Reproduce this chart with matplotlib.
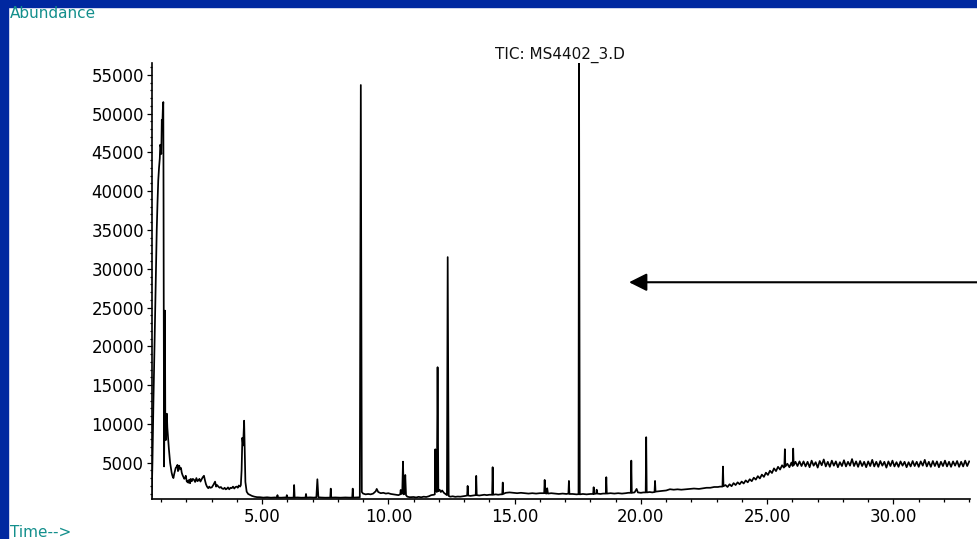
import numpy as np
import matplotlib
matplotlib.use("Agg")
import matplotlib.pyplot as plt
from matplotlib.patches import Rectangle
from matplotlib.ticker import MultipleLocator, FormatStrFormatter

# retention time (min) / abundance
# solvent front and early bleed
front_rt = [0.63, 0.66, 0.70, 0.74, 0.78, 0.83, 0.86, 0.89, 0.92, 0.95, 0.97, 0.99,
            1.01, 1.03, 1.05, 1.07, 1.09, 1.10, 1.12, 1.14, 1.155, 1.17, 1.19, 1.21,
            1.23, 1.25, 1.28, 1.31, 1.34, 1.36, 1.39, 1.42, 1.45, 1.49, 1.52, 1.55,
            1.58, 1.62, 1.65, 1.67, 1.69, 1.72, 1.75, 1.79, 1.82, 1.85, 1.88, 1.92,
            1.95, 1.98, 2.02, 2.05, 2.08, 2.12, 2.15, 2.18, 2.22, 2.26, 2.31, 2.35,
            2.40, 2.44, 2.48, 2.52, 2.56, 2.61, 2.65, 2.70, 2.74, 2.78, 2.82, 2.87,
            2.91, 2.95, 3.01, 3.07, 3.10, 3.14, 3.18, 3.22, 3.27, 3.32, 3.37, 3.42,
            3.47, 3.52, 3.56, 3.60, 3.65, 3.70, 3.75, 3.80, 3.85, 3.90, 3.95, 4.00,
            4.04, 4.08, 4.13, 4.16, 4.19, 4.22, 4.25, 4.29, 4.31, 4.34, 4.39, 4.45,
            4.52, 4.60, 4.70, 4.80]
front_ab = [600, 5000, 13000, 20000, 27000, 35000, 38500, 41400, 43000, 44200, 46000, 45700,
            44800, 49200, 48300, 50500, 51500, 38000, 4500, 12000, 24600, 9000, 7900, 10200,
            11300, 9500, 8100, 6800, 5600, 4960, 4300, 3700, 3300, 3000, 3500, 3900,
            4300, 4480, 4700, 3900, 4000, 4600, 4200, 4300, 3700, 3400, 3190, 2900,
            3000, 3300, 2540, 2650, 2400, 2800, 2330, 2900, 2600, 2900, 2760, 2500,
            3000, 2600, 2700, 2900, 2550, 2850, 3100, 3300, 2700, 2200, 1900, 1690,
            1900, 1750, 1800, 2110, 2300, 2540, 1900, 2100, 1900, 1750, 1850, 1650,
            1600, 1750, 1550, 1600, 1800, 1550, 1750, 1700, 1900, 1650, 1850, 1900,
            1750, 2050, 1900, 2100, 4000, 8200, 7200, 10400, 7000, 2500, 1250, 950,
            830, 700, 600, 540]

# main run, baseline and peaks
mid_rt = [4.92, 5.05, 5.20, 5.35, 5.50, 5.59, 5.61, 5.63, 5.75, 5.90, 5.96, 5.98, 6.00,
          6.12, 6.25, 6.27, 6.29, 6.40, 6.55, 6.72, 6.74, 6.76, 6.90, 7.05, 7.15, 7.19,
          7.23, 7.35, 7.50, 7.70, 7.72, 7.74, 7.90, 8.10, 8.30, 8.45, 8.57, 8.59, 8.61,
          8.75, 8.87, 8.91, 8.95, 9.00, 9.10, 9.20, 9.30, 9.40, 9.50, 9.54, 9.60, 9.70,
          9.80, 9.90, 10.00, 10.10, 10.20, 10.30, 10.40, 10.47, 10.49, 10.51, 10.55,
          10.58, 10.61, 10.64, 10.67, 10.70, 10.75, 10.85, 11.00, 11.10, 11.20, 11.30,
          11.40, 11.50, 11.60, 11.70, 11.80, 11.84, 11.86, 11.88, 11.92, 11.95, 11.98,
          12.03, 12.08, 12.13, 12.20, 12.28, 12.32, 12.35, 12.39, 12.45, 12.55, 12.65,
          12.75, 12.85, 12.95, 13.05, 13.12, 13.14, 13.16, 13.25, 13.35, 13.46, 13.48,
          13.50, 13.60, 13.70, 13.80, 13.90, 14.00, 14.11, 14.13, 14.15, 14.25, 14.35,
          14.45, 14.51, 14.53, 14.55, 14.65, 14.80, 14.95, 15.10, 15.25, 15.40, 15.55,
          15.70, 15.85, 16.00, 16.17, 16.19, 16.21, 16.26, 16.29, 16.32, 16.45, 16.60,
          16.75, 16.90, 17.05, 17.13, 17.15, 17.17, 17.30, 17.45, 17.53, 17.55, 17.58,
          17.70, 17.85, 18.00, 18.11, 18.13, 18.15, 18.23, 18.25, 18.27, 18.40, 18.50,
          18.61, 18.63, 18.65, 18.80, 18.95, 19.10, 19.25, 19.40, 19.50, 19.60, 19.62,
          19.64, 19.75, 19.83, 19.88, 20.00, 20.10, 20.19, 20.21, 20.23, 20.35, 20.45,
          20.54, 20.56, 20.58, 20.70, 20.85, 21.00, 21.15, 21.30, 21.45, 21.60, 21.80,
          21.95, 22.10, 22.30, 22.47, 22.60, 22.75, 22.90, 23.05, 23.13, 23.23, 23.25,
          23.27]
mid_ab = [530, 480, 520, 470, 500, 480, 800, 490, 470, 500, 480, 800, 490,
          470, 480, 2100, 480, 500, 470, 480, 950, 480, 510, 480, 520, 2850,
          520, 490, 470, 480, 1640, 480, 500, 470, 500, 480, 480, 1640, 480,
          500, 520, 53700, 1200, 1000, 900, 950, 900, 1000, 1300, 1600, 1200, 1050,
          1100, 1000, 1050, 950, 900, 850, 800, 900, 1470, 950, 1000,
          5120, 900, 1000, 3400, 800, 600, 530, 560, 500, 580, 520,
          600, 560, 650, 800, 850, 900, 6710, 1500, 1200, 17300, 1300,
          1500, 1200, 1400, 1100, 900, 800, 31500, 700, 600, 650, 580,
          620, 600, 650, 700, 750, 1990, 750, 700, 750, 800, 3280,
          800, 750, 800, 850, 800, 850, 850, 4400, 850, 900, 850,
          900, 900, 2420, 950, 1100, 1150, 1100, 1050, 1100, 1050, 1000,
          1050, 1000, 1050, 1050, 2760, 1050, 1000, 1690, 1000, 1050, 1000,
          950, 1000, 950, 1000, 2630, 950, 950, 900, 920, 58000, 900,
          950, 900, 950, 950, 1820, 950, 1000, 1500, 1000, 950, 1000,
          1000, 3110, 1000, 1050, 1000, 1050, 1000, 1050, 1100, 1100, 5250,
          1100, 1150, 1600, 1150, 1100, 1150, 1150, 8270, 1150, 1200, 1150,
          1200, 2630, 1250, 1300, 1350, 1400, 1560, 1500, 1550, 1500, 1560,
          1600, 1650, 1600, 1690, 1750, 1750, 1850, 1850, 1900, 1900, 4480,
          1950]

# column bleed ramp and plateau
late_rt = [23.35, 23.43, 23.51, 23.59, 23.67, 23.75, 23.83, 23.91, 23.99, 24.07, 24.15,
           24.23, 24.31, 24.39, 24.47, 24.55, 24.63, 24.71, 24.79, 24.87, 24.95, 25.03,
           25.11, 25.19, 25.27, 25.35, 25.43, 25.51, 25.59, 25.66, 25.68, 25.70, 25.72,
           25.80, 25.88, 25.96, 26.01, 26.03, 26.05, 26.12, 26.20, 26.28,
           26.36, 26.44, 26.52, 26.60, 26.68, 26.76, 26.84, 26.92, 27.00, 27.08, 27.16,
           27.24, 27.32, 27.40, 27.48, 27.56, 27.64, 27.72, 27.80, 27.88, 27.96, 28.04,
           28.12, 28.20, 28.28, 28.36, 28.44, 28.52, 28.60, 28.68, 28.76, 28.84, 28.92,
           29.00, 29.08, 29.16, 29.24, 29.32, 29.40, 29.48, 29.56, 29.64, 29.72, 29.80,
           29.88, 29.96, 30.04, 30.12, 30.20, 30.28, 30.36, 30.44, 30.52, 30.60, 30.68,
           30.76, 30.84, 30.92, 31.00, 31.08, 31.16, 31.24, 31.32, 31.40, 31.48, 31.56,
           31.64, 31.72, 31.80, 31.88, 31.96, 32.04, 32.12, 32.20, 32.28, 32.36, 32.44,
           32.52, 32.60, 32.68, 32.76, 32.84, 32.92, 33.00]
late_ab = [2100, 1850, 2200, 1950, 2350, 2100, 2450, 2200, 2550, 2300, 2700,
           2450, 2850, 2600, 3050, 2800, 3250, 2950, 3450, 3150, 3700, 3400,
           3950, 3650, 4250, 3900, 4450, 4100, 4650, 4350, 4500, 6720, 4500,
           4850, 4400, 5000, 4550, 6800, 4650, 5100, 4550, 5150,
           4550, 5150, 4500, 5100, 4400, 5250, 4600, 5050, 4350, 5200, 4650,
           5400, 4500, 5100, 4450, 5250, 4600, 5150, 4400, 5050, 4550, 5300,
           4500, 5100, 4600, 5450, 4550, 5150, 4450, 5200, 4550, 5100, 4400,
           5150, 4550, 5350, 4500, 5100, 4450, 5200, 4600, 5100, 4350, 5150,
           4550, 5250, 4500, 5050, 4450, 5150, 4600, 5100, 4400, 5050, 4500,
           5200, 4550, 5100, 4450, 5150, 4600, 5350, 4500, 5100, 4450, 5200,
           4550, 5150, 4400, 5100, 4550, 5250, 4500, 5100, 4450, 5150, 4600,
           5200, 4450, 5100, 4500, 5250, 4550, 5150]

title_txt = "TIC: MS4402_3.D"
arrow_rt = 19.53
arrow_ab = 28260

rt = np.array(front_rt + mid_rt + late_rt)
ab = np.array(front_ab + mid_ab + late_ab)

blue = "#0028a0"
teal = "#138f8c"

fig = plt.figure(figsize=(9.78, 5.39), dpi=100)
fig.patch.set_facecolor("white")
# window frame strips (left / top)
fig.add_artist(Rectangle((0, 0), 8 / 978, 1, transform=fig.transFigure, color=blue, zorder=0))
fig.add_artist(Rectangle((0, 1 - 7 / 539), 1, 7 / 539, transform=fig.transFigure, color=blue, zorder=0))

ax = fig.add_axes([0.1551, 0.0742, 0.8367, 0.8098])
ax.plot(rt, ab, color="black", lw=1.25)

ax.set_xlim(0.63, 33.03)
ax.set_ylim(300, 56600)

ax.xaxis.set_major_locator(MultipleLocator(5))
ax.xaxis.set_minor_locator(MultipleLocator(1))
ax.xaxis.set_major_formatter(FormatStrFormatter("%.2f"))
ax.yaxis.set_major_locator(MultipleLocator(5000))
ax.yaxis.set_minor_locator(MultipleLocator(1000))

for s in ["top", "right"]:
    ax.spines[s].set_visible(False)
for s in ["left", "bottom"]:
    ax.spines[s].set_linewidth(1.2)

ax.tick_params(axis="x", which="major", length=3.4, width=0.9, pad=3, labelsize=12, colors="black")
ax.tick_params(axis="x", which="minor", length=2.4, width=0.9)
ax.tick_params(axis="y", which="major", length=3.4, width=0.9, pad=2, labelsize=12, colors="black")
ax.tick_params(axis="y", which="minor", length=1.5, width=0.9)

fig.text(560 / 978, 1 - 55 / 539, title_txt, ha="center", va="center", fontsize=11, color="#111111")
fig.text(10 / 978, 1 - 13 / 539, "Abundance", ha="left", va="center", fontsize=11, color=teal)
fig.text(10 / 978, 2 / 539, "Time-->", ha="left", va="baseline", fontsize=11, color=teal)

ax.annotate("", xy=(arrow_rt, arrow_ab), xycoords="data",
            xytext=(1.0, 1 - 282.3 / 539), textcoords="figure fraction",
            arrowprops=dict(arrowstyle="-|>,head_length=1.08,head_width=0.54",
                            mutation_scale=10, lw=1.5, color="black",
                            shrinkA=0, shrinkB=0),
            annotation_clip=False)

fig.savefig("out.png", dpi=100)
